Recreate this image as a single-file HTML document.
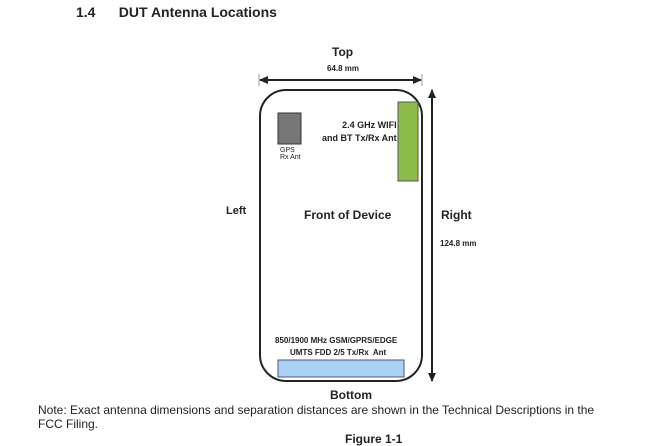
<!DOCTYPE html>
<html><head><style>
body{margin:0;width:665px;height:446px;background:#fff;overflow:hidden;position:relative;font-family:"Liberation Sans",sans-serif;color:#222}
.t{position:absolute;white-space:nowrap;font-weight:bold}
</style></head><body>
<div class="t" style="left:76px;top:4px;font-size:14px">1.4&nbsp;&nbsp;&nbsp;&nbsp;&nbsp;&nbsp;DUT Antenna Locations</div>
<svg width="665" height="446" style="position:absolute;left:0;top:0">
<defs><marker id="a" markerUnits="userSpaceOnUse" markerWidth="9" markerHeight="8" refX="8" refY="4" orient="auto-start-reverse"><path d="M0,0 L9,4 L0,8z" fill="#222"/></marker></defs>
<line x1="260" y1="80" x2="421" y2="80" stroke="#222" stroke-width="2" marker-start="url(#a)" marker-end="url(#a)"/>
<line x1="259" y1="74" x2="259" y2="86" stroke="#8ab" stroke-width="1"/>
<line x1="422" y1="74" x2="422" y2="86" stroke="#8ab" stroke-width="1"/>
<line x1="432" y1="90" x2="432" y2="381" stroke="#222" stroke-width="2" marker-start="url(#a)" marker-end="url(#a)"/>
<rect x="260" y="90" width="162" height="291" rx="26" fill="#fff" stroke="#222" stroke-width="2"/>
<rect x="278" y="113" width="23" height="31" fill="#777" stroke="#333"/>
<rect x="398" y="102" width="20" height="79" fill="#8dbb4a" stroke="#555"/>
<rect x="278" y="360" width="126" height="17" fill="#a9d1f5" stroke="#557"/>
</svg>
<div class="t" style="left:332px;top:45px;font-size:12px">Top</div>
<div class="t" style="left:327px;top:64px;font-size:8px">64.8 mm</div>
<div class="t" style="left:280px;top:147px;font-size:7px;font-weight:normal">GPS<br>Rx Ant</div>
<div class="t" style="left:322px;top:119px;font-size:9px;text-align:right;line-height:13px">&nbsp;&nbsp;&nbsp;&nbsp;&nbsp;2.4 GHz WIFI<br>and BT Tx/Rx Ant</div>
<div class="t" style="left:226px;top:205px;font-size:11px">Left</div>
<div class="t" style="left:304px;top:208px;font-size:12px">Front of Device</div>
<div class="t" style="left:441px;top:208px;font-size:12px">Right</div>
<div class="t" style="left:440px;top:239px;font-size:8px">124.8 mm</div>
<div class="t" style="left:275px;top:336px;font-size:8px">850/1900 MHz GSM/GPRS/EDGE</div>
<div class="t" style="left:290px;top:348px;font-size:8px">UMTS FDD 2/5 Tx/Rx&nbsp; Ant</div>
<div class="t" style="left:330px;top:388px;font-size:12px">Bottom</div>
<div class="t" style="left:38px;top:403px;font-size:12px;font-weight:normal">Note: Exact antenna dimensions and separation distances are shown in the Technical Descriptions in the</div>
<div class="t" style="left:38px;top:417px;font-size:12px;font-weight:normal">FCC Filing.</div>
<div class="t" style="left:345px;top:432px;font-size:12px">Figure 1-1</div>
</body></html>
